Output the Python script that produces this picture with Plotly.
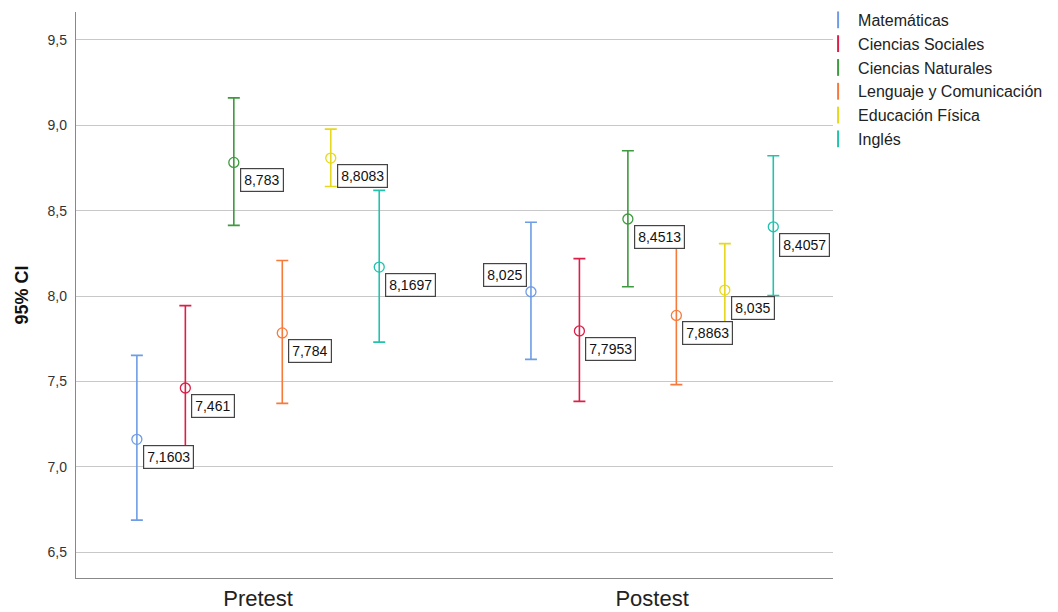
import plotly.graph_objects as go

# ---------------- data ----------------
groups = ["Pretest", "Postest"]
subjects = ["Matemáticas", "Ciencias Sociales", "Ciencias Naturales",
            "Lenguaje y Comunicación", "Educación Física", "Inglés"]
colors = ["#6f9ce6", "#dc1f48", "#3e9a3e", "#f67a3c", "#e6d81c", "#22c2ad"]

means = {
    "Matemáticas":             [7.1603, 8.025],
    "Ciencias Sociales":       [7.461, 7.7953],
    "Ciencias Naturales":      [8.783, 8.4513],
    "Lenguaje y Comunicación": [7.784, 7.8863],
    "Educación Física":        [8.8083, 8.035],
    "Inglés":                  [8.1697, 8.4057],
}
upper = {
    "Matemáticas":             [7.652, 8.432],
    "Ciencias Sociales":       [7.944, 8.219],
    "Ciencias Naturales":      [9.161, 8.851],
    "Lenguaje y Comunicación": [8.208, 8.291],
    "Educación Física":        [8.978, 8.307],
    "Inglés":                  [8.619, 8.822],
}
lower = {
    "Matemáticas":             [6.687, 7.629],
    "Ciencias Sociales":       [6.995, 7.383],
    "Ciencias Naturales":      [8.414, 8.054],
    "Lenguaje y Comunicación": [7.371, 7.481],
    "Educación Física":        [8.642, 7.763],
    "Inglés":                  [7.730, 8.003],
}
labels = {
    "Matemáticas":             ["7,1603", "8,025"],
    "Ciencias Sociales":       ["7,461", "7,7953"],
    "Ciencias Naturales":      ["8,783", "8,4513"],
    "Lenguaje y Comunicación": ["7,784", "7,8863"],
    "Educación Física":        ["8,8083", "8,035"],
    "Inglés":                  ["8,1697", "8,4057"],
}
y_ticks = [6.5, 7.0, 7.5, 8.0, 8.5, 9.0, 9.5]

# ---------------- figure ----------------
FONT = "Liberation Sans, Arial, sans-serif"
spacing = 0.123
fig = go.Figure()
annotations = []
for i, (s, c) in enumerate(zip(subjects, colors)):
    off = (i - 2.5) * spacing
    xs = [g + off for g in range(len(groups))]
    m = means[s]
    fig.add_trace(go.Scatter(
        x=xs, y=m, mode="markers", name=s, showlegend=False,
        marker=dict(symbol="circle-open", size=10, color=c, line=dict(width=1.3)),
        error_y=dict(type="data", symmetric=False,
                     array=[u - v for u, v in zip(upper[s], m)],
                     arrayminus=[v - l for l, v in zip(lower[s], m)],
                     color=c, thickness=1.6, width=6),
        hoverinfo="skip",
    ))
    # legend-only trace
    fig.add_trace(go.Scatter(
        x=[None], y=[None], mode="markers", name=s,
        marker=dict(symbol="line-ns-open", size=12, color=c, line=dict(width=2, color=c)),
    ))
    for g in range(len(groups)):
        left_up = (s == "Matemáticas" and g == 1)
        annotations.append(dict(
            x=xs[g], y=m[g], xref="x", yref="y", text=labels[s][g],
            showarrow=False,
            xanchor="right" if left_up else "left",
            yanchor="bottom" if left_up else "top",
            xshift=-4 if left_up else 6, yshift=5 if left_up else -6,
            font=dict(family=FONT, size=14, color="#111"),
            bgcolor="white", bordercolor="#444", borderwidth=1.2, borderpad=3,
        ))

fig.update_layout(
    width=1050, height=604,
    margin=dict(l=68, r=225, t=4, b=34, autoexpand=False),
    paper_bgcolor="white", plot_bgcolor="white",
    separators=",.",
    font=dict(family=FONT, color="#222"),
    annotations=annotations,
    legend=dict(x=0.9803, y=1.016, xanchor="left", yanchor="top",
                font=dict(family=FONT, size=16, color="#222"),
                itemwidth=30, tracegroupgap=0, bgcolor="rgba(0,0,0,0)"),
    xaxis=dict(range=[-0.462, 1.459], tickvals=list(range(len(groups))),
               ticktext=groups, showgrid=False, zeroline=False, automargin=False,
               showline=True, linecolor="#888", linewidth=1.3,
               tickfont=dict(family=FONT, size=22, color="#222"), ticks=""),
    yaxis=dict(range=[6.348, 9.664], tickvals=y_ticks, tickformat=".1f",
               showgrid=True, gridcolor="#c8c8c8", gridwidth=1.3, automargin=False,
               zeroline=False, showline=True, linecolor="#888", linewidth=1.3,
               tickfont=dict(family=FONT, size=14, color="#333"), ticks="",
               ticklen=0, ticklabelstandoff=5,
               title=dict(text="<b>95% CI</b>", standoff=14,
                          font=dict(family=FONT, size=18, color="#111"))),
)

fig.write_html("out.html")
